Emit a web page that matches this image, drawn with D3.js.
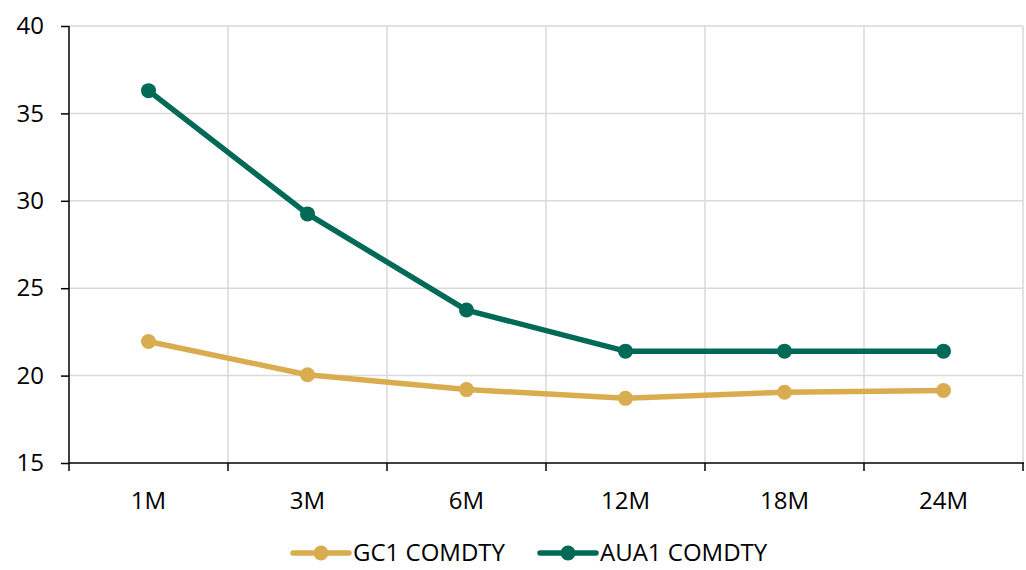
<!DOCTYPE html>
<html>
<head>
<meta charset="utf-8">
<script src="https://cdn.jsdelivr.net/npm/d3@7"></script>
<style>
  body { margin: 0; background: #fff; }
  svg { font-family: "Open Sans", "Noto Sans", sans-serif; }
</style>
</head>
<body>
<svg width="1026" height="570"></svg>
<script>
// chart data
var tenors = ["1M", "3M", "6M", "12M", "18M", "24M"];
var gc1 = [21.95, 20.05, 19.2, 18.7, 19.05, 19.15];
var aua1 = [36.3, 29.25, 23.75, 21.4, 21.4, 21.4];
var yTicks = [15, 20, 25, 30, 35, 40];

var seriesNames = ["GC1 COMDTY", "AUA1 COMDTY"];
var colors = ["#D9AD4F", "#006A57"];

var svg = d3.select("svg");
var plotL = 69, plotR = 1023, plotT = 26, plotB = 463;
var fontSize = 24;

var x = d3.scaleBand().domain(tenors).range([plotL, plotR]);
var y = d3.scaleLinear().domain([15, 40]).range([plotB, plotT]);

//grid lines
var grid = svg.append("g");
grid.selectAll(".hg")
  .data(yTicks.slice(1))
  .enter().append("line")
  .attr("x1", plotL).attr("x2", plotR)
  .attr("y1", function(d) { return y(d); })
  .attr("y2", function(d) { return y(d); })
  .attr("stroke", "#d9d9d9").attr("stroke-width", 1.5);
grid.selectAll(".vg")
  .data(tenors)
  .enter().append("line")
  .attr("x1", function(d) { return x(d) + x.bandwidth(); })
  .attr("x2", function(d) { return x(d) + x.bandwidth(); })
  .attr("y1", plotT).attr("y2", plotB)
  .attr("stroke", "#d9d9d9").attr("stroke-width", 1.5);

// y axis
var yAxis = d3.axisLeft(y).tickValues(yTicks).tickSize(8).tickPadding(17);
var yg = svg.append("g")
  .attr("transform", "translate(" + plotL + ",0)")
  .call(yAxis);
yg.selectAll("text").attr("font-size", fontSize).attr("fill", "#000").attr("font-family", "Open Sans");
yg.selectAll("line, path").attr("stroke", "#000").attr("stroke-width", 1.5);
yg.select("path").attr("d", "M0," + plotT + "V" + plotB);

// x axis - ticks at band edges
var xg = svg.append("g").attr("transform", "translate(0," + plotB + ")");
xg.append("line").attr("x1", plotL).attr("x2", plotR + 1)
  .attr("stroke", "#000").attr("stroke-width", 1.5);
xg.selectAll(".tk")
  .data([plotL].concat(tenors.map(function(d) { return x(d) + x.bandwidth(); })))
  .enter().append("line")
  .attr("x1", function(d) { return d; }).attr("x2", function(d) { return d; })
  .attr("y1", 0).attr("y2", 8)
  .attr("stroke", "#000").attr("stroke-width", 1.5);
xg.selectAll(".lb")
  .data(tenors)
  .enter().append("text")
  .attr("x", function(d) { return x(d) + x.bandwidth() / 2; })
  .attr("y", 46)
  .attr("text-anchor", "middle")
  .attr("font-size", fontSize)
  .attr("fill", "#000")
  .text(function(d) { return d; });

// series
var allSeries = [gc1, aua1];
var line = d3.line()
  .x(function(d, i) { return x(tenors[i]) + x.bandwidth() / 2; })
  .y(function(d) { return y(d); });

allSeries.forEach(function(s, k) {
  svg.append("path")
    .attr("d", line(s))
    .attr("fill", "none")
    .attr("stroke", colors[k])
    .attr("stroke-width", 5.5)
    .attr("stroke-linejoin", "round");
  svg.selectAll(".pt" + k)
    .data(s)
    .enter().append("circle")
    .attr("cx", function(d, i) { return x(tenors[i]) + x.bandwidth() / 2; })
    .attr("cy", function(d) { return y(d); })
    .attr("r", 7.5)
    .attr("fill", colors[k]);
});

// legend
var legendX = [293, 540];
var legend = svg.selectAll(".leg")
  .data(seriesNames)
  .enter().append("g")
  .attr("transform", function(d, i) { return "translate(" + legendX[i] + ",553)"; });
legend.append("line")
  .attr("x1", 0).attr("x2", 56)
  .attr("stroke", function(d, i) { return colors[i]; })
  .attr("stroke-width", 5.5)
  .attr("stroke-linecap", "round");
legend.append("circle")
  .attr("cx", 28).attr("r", 7.5)
  .attr("fill", function(d, i) { return colors[i]; });
legend.append("text")
  .attr("x", 60).attr("dy", "0.35em")
  .attr("font-size", fontSize)
  .attr("fill", "#000")
  .text(function(d) { return d; });
</script>
</body>
</html>
